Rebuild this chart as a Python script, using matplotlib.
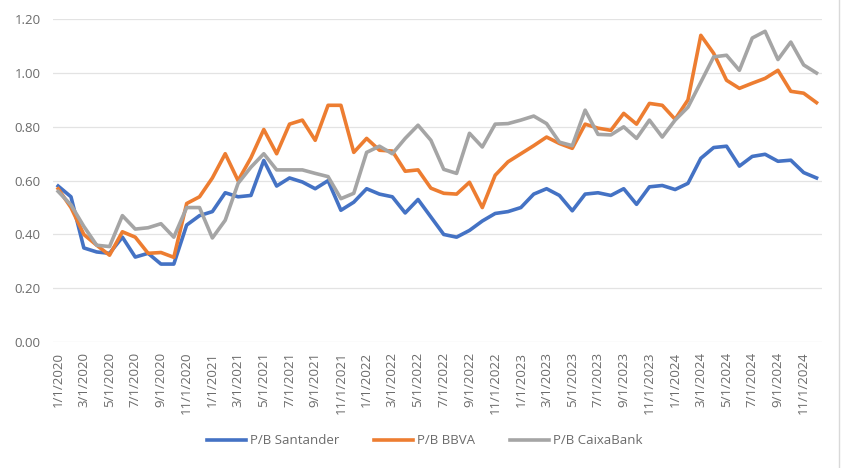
import matplotlib
matplotlib.use("Agg")
import matplotlib.pyplot as plt
import pandas as pd

dates = pd.date_range("2020-01-01", periods=60, freq="MS")

santander = [0.58, 0.54, 0.35, 0.335, 0.33, 0.39, 0.316, 0.33, 0.29, 0.29,
             0.435, 0.47, 0.485, 0.555, 0.54, 0.545, 0.675, 0.58, 0.61, 0.595,
             0.57, 0.60, 0.49, 0.52, 0.57, 0.55, 0.54, 0.48, 0.53, 0.465,
             0.40, 0.39, 0.415, 0.45, 0.478, 0.485, 0.50, 0.55, 0.57, 0.545,
             0.488, 0.55, 0.555, 0.545, 0.57, 0.512, 0.577, 0.582, 0.567, 0.59,
             0.683, 0.723, 0.728, 0.654, 0.69, 0.698, 0.672, 0.676, 0.63, 0.61]

bbva = [0.57, 0.50, 0.40, 0.36, 0.323, 0.41, 0.39, 0.33, 0.333, 0.315,
        0.515, 0.54, 0.61, 0.70, 0.60, 0.685, 0.79, 0.70, 0.81, 0.825,
        0.75, 0.88, 0.88, 0.705, 0.757, 0.713, 0.71, 0.635, 0.64, 0.572,
        0.553, 0.55, 0.594, 0.50, 0.62, 0.67, 0.70, 0.73, 0.762, 0.738,
        0.72, 0.81, 0.795, 0.787, 0.85, 0.81, 0.887, 0.88, 0.828, 0.90,
        1.14, 1.073, 0.973, 0.943, 0.962, 0.98, 1.01, 0.932, 0.925, 0.89]

caixabank = [0.56, 0.51, 0.43, 0.36, 0.355, 0.47, 0.42, 0.425, 0.44, 0.39,
             0.50, 0.50, 0.387, 0.453, 0.59, 0.65, 0.70, 0.64, 0.64, 0.64,
             0.627, 0.615, 0.533, 0.553, 0.705, 0.728, 0.70, 0.757, 0.806, 0.75,
             0.642, 0.627, 0.776, 0.725, 0.81, 0.812, 0.825, 0.84, 0.812, 0.743,
             0.73, 0.862, 0.772, 0.77, 0.80, 0.757, 0.825, 0.762, 0.825, 0.873,
             0.966, 1.06, 1.066, 1.01, 1.13, 1.155, 1.05, 1.115, 1.03, 1.00]

series_names = ["P/B Santander", "P/B BBVA", "P/B CaixaBank"]
colors = ["#4472C4", "#ED7D31", "#A5A5A5"]

plt.rcParams['font.family'] = ['Open Sans', 'DejaVu Sans']
text_color = "#6b6b6b"

fig = plt.figure(figsize=(8.41, 4.68), dpi=100)
ax = fig.add_axes([0.063, 0.269, 0.914, 0.690])

x = list(range(len(dates)))
for vals, name, c in zip([santander, bbva, caixabank], series_names, colors):
    ax.plot(x, vals, color=c, lw=2.6, label=name, solid_joinstyle='round')

ax.set_xlim(-0.4, 59.4)
ax.set_ylim(0, 1.2)
yt = [0, 0.2, 0.4, 0.6, 0.8, 1.0, 1.2]
ax.set_yticks(yt)
ax.set_yticklabels([f"{v:.2f}" for v in yt])
ax.grid(axis='y', color="#E3E3E3", lw=0.9)
ax.set_axisbelow(True)
for s in ax.spines.values():
    s.set_visible(False)

ax.set_xticks(x[::2])
ax.set_xticklabels([f"{d.month}/{d.day}/{d.year}" for d in dates[::2]], rotation=90)
ax.tick_params(axis='both', length=0, colors=text_color)
ax.tick_params(axis='y', pad=9, labelsize=9.5)
ax.tick_params(axis='x', pad=7, labelsize=9.5)

fig.legend(loc='center', bbox_to_anchor=(0.505, 0.058), ncol=3, frameon=False,
           fontsize=9.5, labelcolor=text_color, handlelength=3.0, columnspacing=2.6,
           handletextpad=0.3)

fig.add_artist(plt.Line2D([0.9975, 0.9975], [0, 1], color="#D9D9D9", lw=1))

fig.savefig("out.png", dpi=100)
